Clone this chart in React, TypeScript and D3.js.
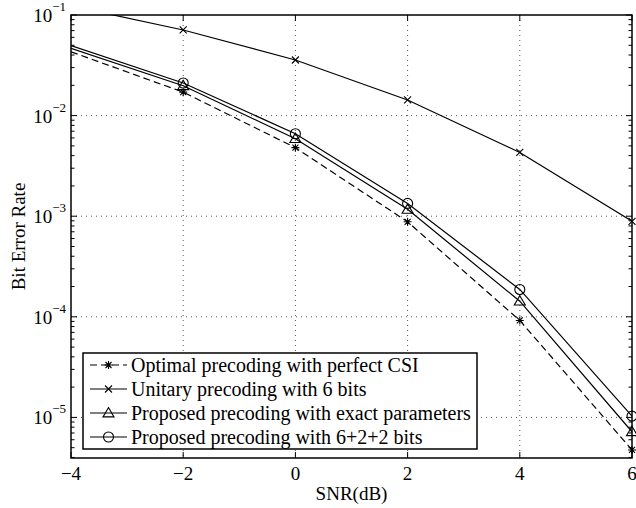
import React from "react";
import * as d3 from "d3";

const snr = [-4, -2, 0, 2, 4, 6];
const optimalBER = [0.0431, 0.0171, 0.0048, 0.00088, 0.000092, 4.75e-6];
const unitaryBER = [0.123, 0.071, 0.0357, 0.0143, 0.0043, 0.00089];
const exactBER = [0.0466, 0.0198, 0.0059, 0.00117, 0.000143, 7.2e-6];
const bitsBER = [0.0496, 0.0211, 0.0066, 0.00134, 0.000187, 1.03e-5];
const legendLabels = [
  "Optimal precoding with perfect CSI",
  "Unitary precoding with 6 bits",
  "Proposed precoding with exact parameters",
  "Proposed precoding with 6+2+2 bits",
];
const xTicks = [-4, -2, 0, 2, 4, 6];
const yDecades = [-1, -2, -3, -4, -5];
const markerStart = -2;

const W = 636, H = 508;
const L = 71, R = 632, T = 15, B = 458;
const FONT = "'Liberation Serif', 'Times New Roman', serif";

type Series = { values: number[]; marker: string; dashed: boolean; label: string };
const series: Series[] = [
  { values: optimalBER, marker: "star", dashed: true, label: legendLabels[0] },
  { values: unitaryBER, marker: "x", dashed: false, label: legendLabels[1] },
  { values: exactBER, marker: "tri", dashed: false, label: legendLabels[2] },
  { values: bitsBER, marker: "circle", dashed: false, label: legendLabels[3] },
];

function Marker({ type, x, y }: { type: string; x: number; y: number }) {
  const s = { stroke: "#000", strokeWidth: 1.1, fill: "none" };
  if (type === "circle") return <circle cx={x} cy={y} r={5} {...s} />;
  if (type === "tri") {
    const h = 5.5;
    return <path d={`M${x},${y - h}L${x + h},${y + h * 0.7}L${x - h},${y + h * 0.7}Z`} {...s} />;
  }
  if (type === "x") {
    const a = 3.5;
    return <path d={`M${x - a},${y - a}L${x + a},${y + a}M${x - a},${y + a}L${x + a},${y - a}`} {...s} />;
  }
  const a = 4, b = 3;
  return (
    <path
      d={`M${x - a},${y}L${x + a},${y}M${x},${y - a}L${x},${y + a}M${x - b},${y - b}L${x + b},${y + b}M${x - b},${y + b}L${x + b},${y - b}`}
      {...s}
    />
  );
}

export default function App() {
  const x = d3.scaleLinear().domain([-4, 6]).range([L, R]);
  const y = d3.scaleLog().domain([3.95e-6, 0.1]).range([B, T]);
  const line = d3
    .line<[number, number]>()
    .x((d) => x(d[0]))
    .y((d) => y(d[1]));

  const minorTicks: number[] = [];
  for (let e = -6; e <= -2; e++) {
    for (let m = 2; m <= 9; m++) {
      const v = m * Math.pow(10, e);
      if (v >= 3.95e-6 && v <= 0.1) minorTicks.push(v);
    }
  }

  const legX = 83, legY = 353, legW = 394, legH = 96;
  const rowY = (i: number) => 365 + i * 24;

  return (
    <svg
      width={W}
      height={H}
      style={{ position: "absolute", left: 0, top: 0, background: "#fff" }}
      fontFamily={FONT}
    >
      <defs>
        <clipPath id="plotClip">
          <rect x={L} y={T} width={R - L} height={B - T} />
        </clipPath>
      </defs>
      <rect x={0} y={0} width={W} height={H} fill="#fff" />
      {/* grid */}
      {xTicks.slice(1, -1).map((t) => (
        <line key={"gx" + t} x1={x(t)} x2={x(t)} y1={T} y2={B} stroke="#555" strokeWidth={1} strokeDasharray="1,4" />
      ))}
      {yDecades.slice(1).map((e) => (
        <line key={"gy" + e} x1={L} x2={R} y1={y(Math.pow(10, e))} y2={y(Math.pow(10, e))} stroke="#555" strokeWidth={1} strokeDasharray="1,4" />
      ))}
      {/* ticks */}
      {xTicks.map((t) => (
        <g key={"xt" + t}>
          <line x1={x(t)} x2={x(t)} y1={B} y2={B - 6} stroke="#000" />
          <line x1={x(t)} x2={x(t)} y1={T} y2={T + 6} stroke="#000" />
          <text x={x(t)} y={480} textAnchor="middle" fontSize={19}>
            {t < 0 ? "\u2212" + Math.abs(t) : String(t)}
          </text>
        </g>
      ))}
      {yDecades.map((e) => {
        const yy = y(Math.pow(10, e));
        return (
          <g key={"yt" + e}>
            <line x1={L} x2={L + 6} y1={yy} y2={yy} stroke="#000" />
            <line x1={R} x2={R - 6} y1={yy} y2={yy} stroke="#000" />
            <text x={66} y={yy + 7} textAnchor="end" fontSize={19}>
              <tspan>10</tspan>
              <tspan dy={-11} fontSize={13}>{"\u2212" + Math.abs(e)}</tspan>
            </text>
          </g>
        );
      })}
      {minorTicks.map((v, i) => (
        <g key={"mt" + i}>
          <line x1={L} x2={L + 3.5} y1={y(v)} y2={y(v)} stroke="#000" />
          <line x1={R} x2={R - 3.5} y1={y(v)} y2={y(v)} stroke="#000" />
        </g>
      ))}
      {/* series */}
      <g clipPath="url(#plotClip)">
        {series.map((s, i) => (
          <path
            key={"s" + i}
            d={line(snr.map((v, j) => [v, s.values[j]] as [number, number])) || ""}
            fill="none"
            stroke="#000"
            strokeWidth={1.2}
            strokeDasharray={s.dashed ? "7,4" : undefined}
          />
        ))}
      </g>
      {series.map((s, i) =>
        snr.map((v, j) =>
          v >= markerStart && s.values[j] <= 0.1 ? (
            <Marker key={"m" + i + "-" + j} type={s.marker} x={x(v)} y={y(s.values[j])} />
          ) : null
        )
      )}
      {/* frame */}
      <rect x={L} y={T} width={R - L} height={B - T} fill="none" stroke="#000" strokeWidth={1.5} />
      {/* legend */}
      <rect x={legX} y={legY} width={legW} height={legH} fill="#fff" stroke="#000" strokeWidth={1.5} />
      {series.map((s, i) => (
        <g key={"lg" + i}>
          <line
            x1={90}
            x2={127}
            y1={rowY(i)}
            y2={rowY(i)}
            stroke="#000"
            strokeWidth={1.2}
            strokeDasharray={s.dashed ? "7,4" : undefined}
          />
          <Marker type={s.marker} x={108.5} y={rowY(i)} />
          <text x={131} y={rowY(i) + 7} fontSize={20}>
            {s.label}
          </text>
        </g>
      ))}
      {/* axis labels */}
      <text x={(L + R) / 2} y={500} textAnchor="middle" fontSize={19}>
        SNR(dB)
      </text>
      <text transform={`translate(25,${(T + B) / 2}) rotate(-90)`} textAnchor="middle" fontSize={19}>
        Bit Error Rate
      </text>
    </svg>
  );
}
